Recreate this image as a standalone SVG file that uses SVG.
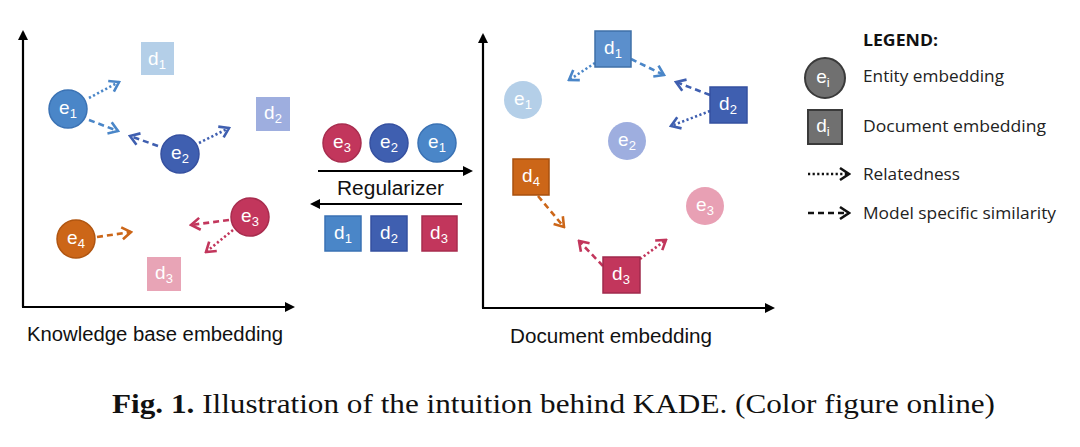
<svg xmlns="http://www.w3.org/2000/svg" width="1080" height="447" viewBox="0 0 1080 447">
<style>
.lbl{font-family:"Liberation Sans",Arial,sans-serif;fill:#fff;font-size:19px;text-anchor:middle}
.sub{font-size:13px}
.ax{stroke:#000;stroke-width:2.2;fill:none}
.dot{stroke-width:2.6;fill:none;stroke-dasharray:2.2 2.4}
.dash{stroke-width:2.6;fill:none;stroke-dasharray:6 4}
.axl{font-family:"Liberation Sans",Arial,sans-serif;font-size:20px;fill:#111}
.leg{font-family:"Open Sans","Noto Sans",sans-serif;font-size:17px;fill:#222}
.blue{stroke:#4a86c8}
.dblue{stroke:#3f5fb0}
.red{stroke:#c2365c}
.orange{stroke:#cc6618}
.blk{stroke:#111}
</style>
<defs>
<marker id="axh" viewBox="0 0 10 10" refX="8" refY="5" markerWidth="10" markerHeight="10" markerUnits="userSpaceOnUse" orient="auto"><path d="M0,0 L10,5 L0,10 z" fill="#000"/></marker>
<marker id="mb" viewBox="-12 -8 14 16" refX="0" refY="0" markerWidth="14" markerHeight="16" markerUnits="userSpaceOnUse" orient="auto"><path d="M-9,-6 L0,0 L-9,6" fill="none" stroke="#4a86c8" stroke-width="2.6"/></marker>
<marker id="md" viewBox="-12 -8 14 16" refX="0" refY="0" markerWidth="14" markerHeight="16" markerUnits="userSpaceOnUse" orient="auto"><path d="M-9,-6 L0,0 L-9,6" fill="none" stroke="#3f5fb0" stroke-width="2.6"/></marker>
<marker id="mr" viewBox="-12 -8 14 16" refX="0" refY="0" markerWidth="14" markerHeight="16" markerUnits="userSpaceOnUse" orient="auto"><path d="M-9,-6 L0,0 L-9,6" fill="none" stroke="#c2365c" stroke-width="2.6"/></marker>
<marker id="mo" viewBox="-12 -8 14 16" refX="0" refY="0" markerWidth="14" markerHeight="16" markerUnits="userSpaceOnUse" orient="auto"><path d="M-9,-6 L0,0 L-9,6" fill="none" stroke="#cc6618" stroke-width="2.6"/></marker>
<marker id="mk" viewBox="-12 -8 14 16" refX="0" refY="0" markerWidth="14" markerHeight="16" markerUnits="userSpaceOnUse" orient="auto"><path d="M-9,-6 L0,0 L-9,6" fill="none" stroke="#111" stroke-width="2.6"/></marker>
</defs>
<rect width="1080" height="447" fill="#fff"/>

<g id="axes-left">
<line class="ax" x1="23" y1="307" x2="23" y2="32" marker-end="url(#axh)"/>
<line class="ax" x1="22" y1="307" x2="293" y2="307" marker-end="url(#axh)"/>
<text class="axl" x="27" y="341" textLength="256" lengthAdjust="spacingAndGlyphs">Knowledge base embedding</text>
</g>

<g id="axes-right">
<line class="ax" x1="483" y1="308" x2="483" y2="35" marker-end="url(#axh)"/>
<line class="ax" x1="482" y1="308" x2="773" y2="308" marker-end="url(#axh)"/>
<text class="axl" x="510" y="343" textLength="202" lengthAdjust="spacingAndGlyphs">Document embedding</text>
</g>

<g id="connectors">
<line class="dot blue" x1="89" y1="98" x2="119" y2="82" marker-end="url(#mb)"/>
<line class="dash blue" x1="89" y1="120" x2="118" y2="131" marker-end="url(#mb)"/>
<line class="dash dblue" x1="158" y1="146" x2="130" y2="136" marker-end="url(#md)"/>
<line class="dot dblue" x1="199" y1="143" x2="229" y2="128" marker-end="url(#md)"/>
<line class="dash red" x1="229" y1="220" x2="191" y2="225" marker-end="url(#mr)"/>
<line class="dot red" x1="233" y1="230" x2="206" y2="252" marker-end="url(#mr)"/>
<line class="dash orange" x1="97" y1="237" x2="131" y2="232" marker-end="url(#mo)"/>
<line class="ax" x1="318" y1="171" x2="471" y2="171" marker-end="url(#axh)"/>
<line class="ax" x1="462" y1="204" x2="312" y2="204" marker-end="url(#axh)"/>
<line class="dot blue" x1="595" y1="63" x2="569" y2="80" marker-end="url(#mb)"/>
<line class="dash blue" x1="631" y1="59" x2="664" y2="75" marker-end="url(#mb)"/>
<line class="dash dblue" x1="710" y1="95" x2="676" y2="82" marker-end="url(#md)"/>
<line class="dot dblue" x1="710" y1="111" x2="671" y2="126" marker-end="url(#md)"/>
<line class="dash orange" x1="538" y1="196" x2="564" y2="227" marker-end="url(#mo)"/>
<line class="dash red" x1="603" y1="266" x2="579" y2="241" marker-end="url(#mr)"/>
<line class="dot red" x1="640" y1="259" x2="666" y2="240" marker-end="url(#mr)"/>
</g>

<g id="kb-d1"><rect x="141" y="42" width="33" height="33" fill="#b4cfe8"/><text class="lbl" x="157" y="65">d<tspan class="sub" dy="4">1</tspan></text></g>
<g id="kb-e1"><circle cx="68" cy="109" r="19" fill="#4a86c8" stroke="#3a72b4" stroke-width="1.5"/><text class="lbl" x="68" y="114">e<tspan class="sub" dy="4">1</tspan></text></g>
<g id="kb-e2"><circle cx="180" cy="154" r="19" fill="#3f5fb0" stroke="#3550a0" stroke-width="1.5"/><text class="lbl" x="180" y="159">e<tspan class="sub" dy="4">2</tspan></text></g>
<g id="kb-d2"><rect x="256" y="97" width="34" height="34" fill="#9eaedf"/><text class="lbl" x="273" y="119">d<tspan class="sub" dy="4">2</tspan></text></g>
<g id="kb-e3"><circle cx="250" cy="217" r="19" fill="#c2365c" stroke="#a82c4e" stroke-width="1.5"/><text class="lbl" x="250" y="222">e<tspan class="sub" dy="4">3</tspan></text></g>
<g id="kb-e4"><circle cx="76" cy="239" r="19" fill="#cc6618" stroke="#b05510" stroke-width="1.5"/><text class="lbl" x="76" y="244">e<tspan class="sub" dy="4">4</tspan></text></g>
<g id="kb-d3"><rect x="147" y="257" width="34" height="34" fill="#e8a4b6"/><text class="lbl" x="164" y="279">d<tspan class="sub" dy="4">3</tspan></text></g>

<g id="mid-e3"><circle cx="342" cy="143" r="19" fill="#c2365c" stroke="#a82c4e" stroke-width="1.5"/><text class="lbl" x="342" y="148">e<tspan class="sub" dy="4">3</tspan></text></g>
<g id="mid-e2"><circle cx="389" cy="143" r="19" fill="#3f5fb0" stroke="#3550a0" stroke-width="1.5"/><text class="lbl" x="389" y="148">e<tspan class="sub" dy="4">2</tspan></text></g>
<g id="mid-e1"><circle cx="437" cy="143" r="19" fill="#4a86c8" stroke="#3a72b4" stroke-width="1.5"/><text class="lbl" x="437" y="148">e<tspan class="sub" dy="4">1</tspan></text></g>
<g id="regularizer"><text class="axl" x="337" y="195" textLength="107" lengthAdjust="spacingAndGlyphs">Regularizer</text></g>
<g id="mid-d1"><rect x="325" y="216" width="36" height="35" fill="#4a86c8" stroke="#3a72b4" stroke-width="1.5"/><text class="lbl" x="343" y="239">d<tspan class="sub" dy="4">1</tspan></text></g>
<g id="mid-d2"><rect x="371" y="216" width="36" height="35" fill="#3f5fb0" stroke="#3550a0" stroke-width="1.5"/><text class="lbl" x="389" y="239">d<tspan class="sub" dy="4">2</tspan></text></g>
<g id="mid-d3"><rect x="422" y="216" width="35" height="35" fill="#c2365c" stroke="#a82c4e" stroke-width="1.5"/><text class="lbl" x="439" y="239">d<tspan class="sub" dy="4">3</tspan></text></g>

<g id="doc-d1"><rect x="595" y="31" width="36" height="36" fill="#5b8fcc" stroke="#3f70a8" stroke-width="1.5"/><text class="lbl" x="613" y="54">d<tspan class="sub" dy="4">1</tspan></text></g>
<g id="doc-e1"><circle cx="523" cy="100" r="19" fill="#b4cfe8"/><text class="lbl" x="523" y="105">e<tspan class="sub" dy="4">1</tspan></text></g>
<g id="doc-d2"><rect x="710" y="87" width="37" height="36" fill="#3f5fb0" stroke="#3550a0" stroke-width="1.5"/><text class="lbl" x="728" y="110">d<tspan class="sub" dy="4">2</tspan></text></g>
<g id="doc-e2"><circle cx="627" cy="141" r="19" fill="#9eaedf"/><text class="lbl" x="627" y="146">e<tspan class="sub" dy="4">2</tspan></text></g>
<g id="doc-d4"><rect x="513" y="159" width="36" height="36" fill="#cc6618" stroke="#a8500e" stroke-width="1.5"/><text class="lbl" x="531" y="182">d<tspan class="sub" dy="4">4</tspan></text></g>
<g id="doc-e3"><circle cx="705" cy="206" r="19" fill="#e8a0b4"/><text class="lbl" x="705" y="211">e<tspan class="sub" dy="4">3</tspan></text></g>
<g id="doc-d3"><rect x="603" y="257" width="37" height="36" fill="#c2365c" stroke="#a02a4c" stroke-width="1.5"/><text class="lbl" x="621" y="280">d<tspan class="sub" dy="4">3</tspan></text></g>

<g id="legend">
<text x="863" y="46" font-family="'Open Sans','Noto Sans',sans-serif" font-weight="bold" font-size="16" fill="#111" textLength="75" lengthAdjust="spacingAndGlyphs">LEGEND:</text>
<g id="legend-entity"><circle cx="825" cy="78" r="20" fill="#707070" stroke="#3a3a3a" stroke-width="2"/><text class="lbl" x="823" y="83">e<tspan class="sub" dy="4">i</tspan></text>
<text class="leg" x="863" y="82" textLength="141" lengthAdjust="spacingAndGlyphs">Entity embedding</text></g>
<g id="legend-doc"><rect x="808" y="110" width="34" height="34" fill="#707070" stroke="#3a3a3a" stroke-width="2"/><text class="lbl" x="823" y="132">d<tspan class="sub" dy="4">i</tspan></text>
<text class="leg" x="863" y="132" textLength="183" lengthAdjust="spacingAndGlyphs">Document embedding</text></g>
<g id="legend-rel"><line class="dot blk" x1="808" y1="174" x2="849" y2="174" marker-end="url(#mk)"/>
<text class="leg" x="863" y="180" textLength="97" lengthAdjust="spacingAndGlyphs">Relatedness</text></g>
<g id="legend-sim"><line class="dash blk" x1="808" y1="213" x2="849" y2="213" marker-end="url(#mk)"/>
<text class="leg" x="863" y="219" textLength="193" lengthAdjust="spacingAndGlyphs">Model specific similarity</text></g>
</g>

<text x="112" y="413" font-family="'Liberation Serif','Times New Roman',serif" font-size="27" fill="#111" textLength="883" lengthAdjust="spacingAndGlyphs"><tspan font-weight="bold">Fig. 1.</tspan> Illustration of the intuition behind KADE. (Color figure online)</text>
</svg>
